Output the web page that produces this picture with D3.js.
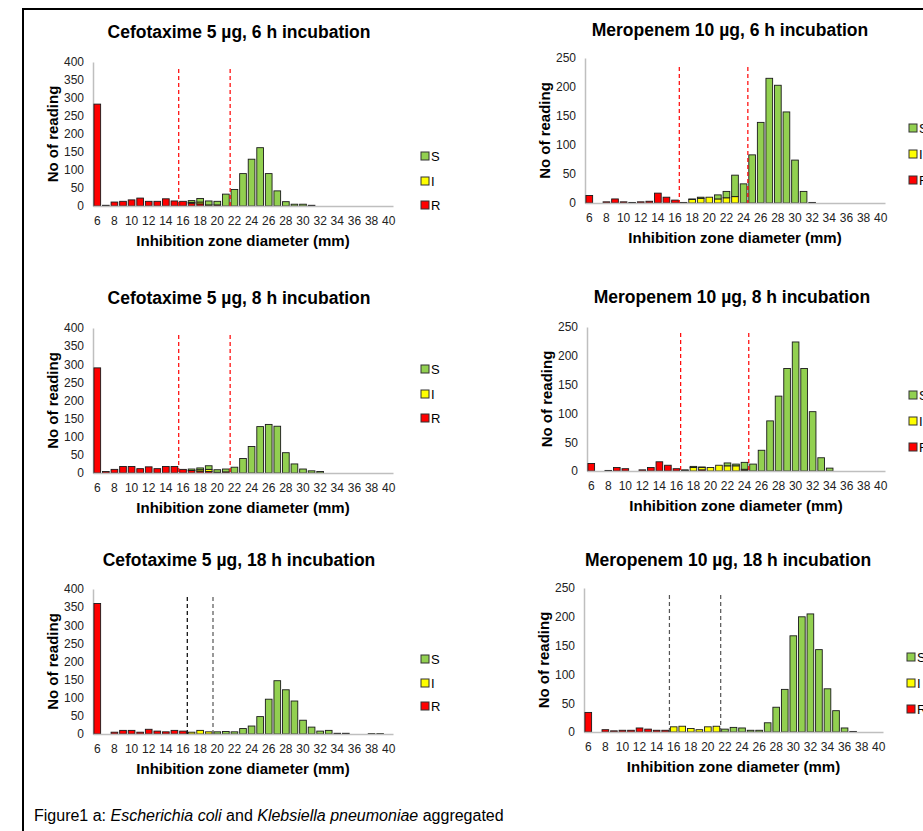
<!DOCTYPE html>
<html>
<head>
<meta charset="utf-8">
<script src="https://cdn.jsdelivr.net/npm/d3@7"></script>
<style>
  body { margin: 0; background: #fff; }
  svg { display: block; font-family: "Liberation Sans", Arial, sans-serif; }
</style>
</head>
<body>
<svg width="923" height="831"></svg>
<script>
// zone diameters (mm), one bar each
var zones = [6,7,8,9,10,11,12,13,14,15,16,17,18,19,20,21,22,23,24,25,26,27,28,29,30,31,32,33,34,35,36,37,38,39,40];
var zoneTicks = [6,8,10,12,14,16,18,20,22,24,26,28,30,32,34,36,38,40];

// Cefotaxime 5 ug, 6 h
var ctx6R = [283,2,11,13,17,22,13,13,20,14,13,8,6,0,3,0,0,0,0,0,0,0,0,0,0,0,0,0,0,0,0,0,0,0,0];
var ctx6I = [0,0,0,0,0,0,0,0,0,0,0,2,5,3,0,0,0,0,0,0,0,0,0,0,0,0,0,0,0,0,0,0,0,0,0];
var ctx6S = [0,0,0,0,0,0,0,0,0,0,0,5,10,11,10,33,46,90,130,162,90,42,12,5,5,2,0,0,0,0,0,0,0,0,0];
// Meropenem 10 ug, 6 h
var mer6R = [13,0,2,7,2,1,2,3,17,10,5,1,0,0,0,0,0,0,0,0,0,0,0,0,0,0,0,0,0,0,0,0,0,0,0];
var mer6I = [0,0,0,0,0,0,0,0,0,0,0,0,6,8,10,7,9,11,0,0,0,0,0,0,0,0,0,0,0,0,0,0,0,0,0];
var mer6S = [0,0,0,0,0,0,0,0,0,0,0,0,1,2,0,7,11,37,33,83,139,215,203,157,74,20,1,0,0,0,0,0,0,0,0];
// Cefotaxime 5 ug, 8 h
var ctx8R = [290,4,10,18,18,12,17,12,18,18,10,7,5,4,2,3,0,0,0,0,0,0,0,0,0,0,0,0,0,0,0,0,0,0,0];
var ctx8I = [0,0,0,0,0,0,0,0,0,0,0,0,4,6,0,0,0,0,0,0,0,0,0,0,0,0,0,0,0,0,0,0,0,0,0];
var ctx8S = [0,0,0,0,0,0,0,0,0,0,0,4,5,10,7,8,16,40,73,128,134,129,56,25,11,6,4,0,0,0,0,0,0,0,0];
// Meropenem 10 ug, 8 h
var mer8R = [13,0,1,6,4,0,2,6,16,10,4,1,0,2,0,0,0,0,1,0,0,0,0,0,0,0,0,0,0,0,0,0,0,0,0];
var mer8I = [0,0,0,0,0,0,0,0,0,0,0,0,6,4,6,10,9,9,2,0,0,0,0,0,0,0,0,0,0,0,0,0,0,0,0];
var mer8S = [0,0,0,0,0,0,0,0,0,0,0,1,2,1,0,0,5,3,12,12,36,87,130,178,224,178,103,23,5,0,0,0,0,0,0];
// Cefotaxime 5 ug, 18 h
var ctx18R = [360,0,5,10,10,5,13,8,6,10,8,0,0,0,0,0,0,0,0,0,0,0,0,0,0,0,0,0,0,0,0,0,0,0,0];
var ctx18I = [0,0,0,0,0,0,0,0,0,0,0,5,10,6,0,0,0,0,0,0,0,0,0,0,0,0,0,0,0,0,0,0,0,0,0];
var ctx18S = [0,0,0,0,0,0,0,0,0,0,0,0,0,0,6,7,6,15,22,48,96,147,122,91,38,19,8,10,2,2,0,0,1,1,0];
// Meropenem 10 ug, 18 h
var mer18R = [34,0,4,2,3,3,7,5,3,3,0,0,0,0,0,0,0,0,0,0,0,0,0,0,0,0,0,0,0,0,0,0,0,0,0];
var mer18I = [0,0,0,0,0,0,0,0,0,0,9,10,6,4,9,10,0,0,0,0,0,0,0,0,0,0,0,0,0,0,0,0,0,0,0];
var mer18S = [0,0,0,0,0,0,0,0,0,0,0,0,0,0,0,0,5,8,7,3,3,16,43,74,167,200,205,143,75,37,7,1,0,0,0];

var legendKeys = ["S", "I", "R"];
var colors = {S: "#92D050", I: "#FFFF00", R: "#FF0000"};

// panel layout (pixels) -- each breakpoint line sits at the left edge of that zone's band
var panels = [
  {title: "Cefotaxime 5 \u00b5g, 6 h incubation", R: ctx6R, I: ctx6I, S: ctx6S, yMax: 400,
   x0: 93, x1: 393, yBase: 206, yTop: 62, tx: 239, ty: 38, lx: 421, ly: [156,181,205],
   cuts: [16, 22], cutTop: 69, cutColor: ["#ff0000", "#ff0000"]},
  {title: "Meropenem 10 \u00b5g, 6 h incubation", R: mer6R, I: mer6I, S: mer6S, yMax: 250,
   x0: 585, x1: 885, yBase: 203, yTop: 58, tx: 730, ty: 36, lx: 909, ly: [128,154,180],
   cuts: [17, 25], cutTop: 67, cutColor: ["#ff0000", "#ff0000"]},
  {title: "Cefotaxime 5 \u00b5g, 8 h incubation", R: ctx8R, I: ctx8I, S: ctx8S, yMax: 400,
   x0: 93, x1: 393, yBase: 473, yTop: 328, tx: 239, ty: 304, lx: 421, ly: [369,394,418],
   cuts: [16, 22], cutTop: 335, cutColor: ["#ff0000", "#ff0000"]},
  {title: "Meropenem 10 \u00b5g, 8 h incubation", R: mer8R, I: mer8I, S: mer8S, yMax: 250,
   x0: 587, x1: 885, yBase: 471, yTop: 327, tx: 732, ty: 303, lx: 909, ly: [395,421,447],
   cuts: [17, 25], cutTop: 333, cutColor: ["#ff0000", "#ff0000"]},
  {title: "Cefotaxime 5 \u00b5g, 18 h incubation", R: ctx18R, I: ctx18I, S: ctx18S, yMax: 400,
   x0: 93, x1: 393, yBase: 734, yTop: 589, tx: 239, ty: 566, lx: 421, ly: [659,683,706],
   cuts: [17, 20], cutTop: 597, cutColor: ["#000000", "#555555"]},
  {title: "Meropenem 10 \u00b5g, 18 h incubation", R: mer18R, I: mer18I, S: mer18S, yMax: 250,
   x0: 584, x1: 883, yBase: 732, yTop: 588, tx: 728, ty: 566, lx: 907, ly: [657,683,709],
   cuts: [16, 22], cutTop: 595, cutColor: ["#555555", "#555555"]}
];

const svg = d3.select("svg");

// outer frame
svg.append("rect")
  .attr("x", 23).attr("y", 9)
  .attr("width", 1000).attr("height", 1000)
  .attr("fill", "none").attr("stroke", "#000").attr("stroke-width", 2);

panels.forEach(function(p) {
  var rows = zones.map(function(z, i) { return {zone: z, R: p.R[i], I: p.I[i], S: p.S[i]}; });
  var series = d3.stack().keys(["R", "I", "S"])(rows);

  var x = d3.scaleBand().domain(zones).range([p.x0, p.x1]).paddingInner(0.22).paddingOuter(0.11);
  var y = d3.scaleLinear().domain([0, p.yMax]).range([p.yBase, p.yTop]);
  var g = svg.append("g");

  // y axis
  var yAxis = g.append("g")
    .attr("transform", "translate(" + p.x0 + ",0)")
    .call(d3.axisLeft(y).ticks(p.yMax / 50).tickSize(0).tickPadding(9));
  yAxis.select(".domain").attr("stroke", "#bfbfbf").attr("stroke-width", 1.5);
  yAxis.selectAll("text").attr("font-size", 12).attr("fill", "#222").attr("font-family", "Liberation Sans, Arial");

  // bars
  g.selectAll(".layer")
    .data(series)
    .enter().append("g")
    .attr("fill", function(d) { return colors[d.key]; })
    .selectAll("rect")
    .data(function(d) { return d; })
    .enter().append("rect")
    .filter(function(d) { return d[1] > d[0]; })
    .attr("x", function(d) { return x(d.data.zone); })
    .attr("width", x.bandwidth())
    .attr("y", function(d) { return y(d[1]); })
    .attr("height", function(d) { return y(d[0]) - y(d[1]); })
    .attr("stroke", "#1a1a1a").attr("stroke-width", 0.9);

  // x axis
  var xAxis = g.append("g")
    .attr("transform", "translate(0," + p.yBase + ")")
    .call(d3.axisBottom(x).tickValues(zoneTicks).tickSize(0).tickPadding(10));
  xAxis.select(".domain").attr("stroke", "#bfbfbf").attr("stroke-width", 1.5);
  xAxis.selectAll("text").attr("font-size", 12).attr("fill", "#222").attr("font-family", "Liberation Sans, Arial");

  // breakpoint lines
  p.cuts.forEach(function(c, i) {
    var cx = x(c) - x.step() * x.paddingInner() / 2;
    g.append("line")
      .attr("x1", cx).attr("x2", cx)
      .attr("y1", p.cutTop).attr("y2", p.yBase)
      .attr("stroke", p.cutColor[i]).attr("stroke-width", 1.2)
      .attr("stroke-dasharray", "4,3");
  });

  // titles
  g.append("text")
    .attr("x", p.tx).attr("y", p.ty)
    .attr("text-anchor", "middle")
    .attr("font-size", 17.5).attr("font-weight", "bold")
    .text(p.title);

  g.append("text")
    .attr("x", (p.x0 + p.x1) / 2).attr("y", p.yBase + 40)
    .attr("text-anchor", "middle")
    .attr("font-size", 15).attr("font-weight", "bold")
    .text("Inhibition zone diameter (mm)");

  g.append("text")
    .attr("transform", "translate(" + (p.x0 - 35) + "," + ((p.yBase + p.yTop) / 2) + ") rotate(-90)")
    .attr("text-anchor", "middle")
    .attr("font-size", 15).attr("font-weight", "bold")
    .text("No of reading");

  // legend
  legendKeys.forEach(function(k, i) {
    g.append("rect")
      .attr("x", p.lx).attr("y", p.ly[i] - 4)
      .attr("width", 8).attr("height", 8)
      .attr("fill", colors[k]).attr("stroke", "#333").attr("stroke-width", 1);
    g.append("text")
      .attr("x", p.lx + 10).attr("y", p.ly[i] + 5)
      .attr("font-size", 13)
      .text(k);
  });
});

// caption
var cap = svg.append("text").attr("x", 34).attr("y", 821).attr("font-size", 16);
cap.append("tspan").text("Figure1 a: ");
cap.append("tspan").attr("font-style", "italic").text("Escherichia coli");
cap.append("tspan").text(" and ");
cap.append("tspan").attr("font-style", "italic").text("Klebsiella pneumoniae");
cap.append("tspan").text(" aggregated");
</script>
</body>
</html>
